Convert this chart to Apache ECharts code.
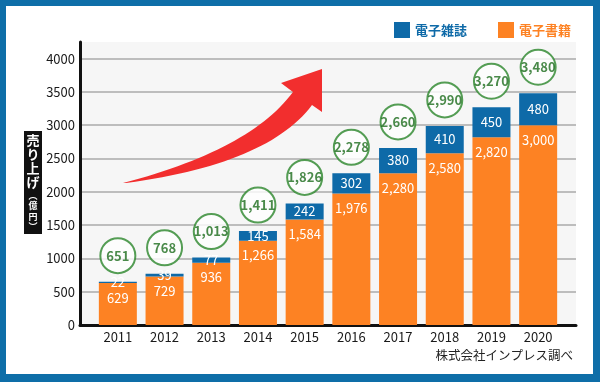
<!DOCTYPE html>
<html><head><meta charset="utf-8">
<script src="https://cdn.jsdelivr.net/npm/echarts@6/dist/echarts.min.js"></script>
<style>html,body{margin:0;padding:0;background:#fff}#c{width:600px;height:382px}</style>
</head><body><div id="c"></div>
<script>
const years = ['2011', '2012', '2013', '2014', '2015', '2016', '2017', '2018', '2019', '2020'];
const ebooks = [629, 729, 936, 1266, 1584, 1976, 2280, 2580, 2820, 3000];
const emagazines = [22, 39, 77, 145, 242, 302, 380, 410, 450, 480];
const totals = [651, 768, 1013, 1411, 1826, 2278, 2660, 2990, 3270, 3480];
const yTicks = [0, 500, 1000, 1500, 2000, 2500, 3000, 3500, 4000];
const sourceText = '株式会社インプレス調べ';

const FONT = '"Noto Sans CJK JP", "Noto Sans", sans-serif';
const fmt = v => Number(v).toLocaleString('en-US');

// decorative arrow outline (two quadratic curves + head)
function quad(p0, c, p1, n) {
  const pts = [];
  for (let i = 0; i <= n; i++) {
    const t = i / n, u = 1 - t;
    pts.push([u * u * p0[0] + 2 * u * t * c[0] + t * t * p1[0], u * u * p0[1] + 2 * u * t * c[1] + t * t * p1[1]]);
  }
  return pts;
}
const arrowPts = [].concat(
  quad([123, 183], [250, 150], [293, 92], 30),
  [[281, 83], [322, 69], [322, 112]],
  quad([312, 105], [268, 164], [126, 183], 30)
);

const chart = echarts.init(document.getElementById('c'), null, {renderer: 'canvas'});
chart.setOption({
  backgroundColor: '#0e6ea8',
  animation: false,
  textStyle: {fontFamily: FONT},
  graphic: [
    {type: 'rect', z: -10, shape: {x: 6, y: 6, width: 587, height: 368}, style: {fill: '#fff'}},
    {type: 'rect', z: 10, shape: {x: 24, y: 131, width: 18, height: 103}, style: {fill: '#111'}},
    {type: 'text', z: 11, x: 33, y: 133, style: {text: '売\nり\n上\nげ', fill: '#fff', font: 'bold 13px ' + FONT, align: 'center', verticalAlign: 'top', lineHeight: 14}},
    {type: 'text', z: 11, x: 33, y: 190, style: {text: '︵\n億\n円\n︶', fill: '#fff', font: 'bold 9px ' + FONT, align: 'center', verticalAlign: 'top', lineHeight: 10.5}},
    {type: 'text', z: 11, x: 573, y: 355, style: {text: sourceText, fill: '#222', font: '12.5px ' + FONT, align: 'right', verticalAlign: 'middle'}},
    {type: 'polygon', z: 5, shape: {points: arrowPts}, style: {fill: '#f22e2e'}}
  ],
  legend: {
    data: ['電子雑誌', '電子書籍'],
    right: 24, top: 17,
    itemWidth: 16, itemHeight: 16, itemGap: 31,
    icon: 'rect',
    textStyle: {color: 'inherit', fontWeight: 'bold', fontSize: 13, fontFamily: FONT}
  },
  grid: [
    {left: 80, right: 24, top: 42, bottom: 57, show: true, backgroundColor: '#f6f6f6', borderWidth: 0},
    {left: 94.5, right: 38.5, top: 42, bottom: 57}
  ],
  xAxis: [
    {
      gridIndex: 0, type: 'value', min: 0, max: 1,
      axisLine: {show: true, onZero: false, lineStyle: {color: '#111', width: 3}},
      axisTick: {show: false}, splitLine: {show: false}, axisLabel: {show: false}
    },
    {
      gridIndex: 1, type: 'category', data: years,
      axisLine: {show: false}, axisTick: {show: false},
      axisLabel: {color: '#1a1a1a', fontSize: 13, margin: 6, fontFamily: FONT}
    }
  ],
  yAxis: [
    {
      gridIndex: 0, type: 'value', min: 0, max: 4250,
      axisLine: {show: true, lineStyle: {color: '#111', width: 3}},
      axisTick: {show: false, customValues: yTicks},
      axisLabel: {customValues: yTicks, formatter: v => String(v), color: '#1a1a1a', fontSize: 13, margin: 5, fontFamily: FONT},
      splitLine: {show: true, lineStyle: {color: '#bdbdbd', width: 2}}
    },
    {
      gridIndex: 1, type: 'value', min: 0, max: 4250,
      axisLine: {show: false}, axisTick: {show: false}, axisLabel: {show: false}, splitLine: {show: false}
    }
  ],
  series: [
    {
      name: '電子書籍', type: 'bar', stack: 's', barWidth: 38, xAxisIndex: 1, yAxisIndex: 1,
      itemStyle: {color: '#fd8223'},
      data: ebooks,
      label: {show: true, position: 'insideTop', distance: 8, color: '#fff', fontSize: 13, fontFamily: FONT, formatter: p => fmt(p.value)}
    },
    {
      name: '電子雑誌', type: 'bar', stack: 's', barWidth: 38, xAxisIndex: 1, yAxisIndex: 1,
      itemStyle: {color: '#0e6aa8'},
      data: emagazines,
      label: {show: true, position: 'inside', color: '#fff', fontSize: 13, fontFamily: FONT, formatter: p => fmt(p.value)}
    },
    {
      name: '合計', type: 'scatter', z: 20, xAxisIndex: 1, yAxisIndex: 1,
      symbol: 'circle', symbolSize: 35, symbolOffset: [0, -26],
      itemStyle: {color: '#fff', borderColor: '#2a862a', borderWidth: 2},
      data: totals,
      label: {show: true, position: 'inside', color: '#1d6d1d', fontWeight: 'bold', fontSize: 13, fontFamily: FONT, formatter: p => fmt(p.value)}
    }
  ]
});
</script></body></html>
